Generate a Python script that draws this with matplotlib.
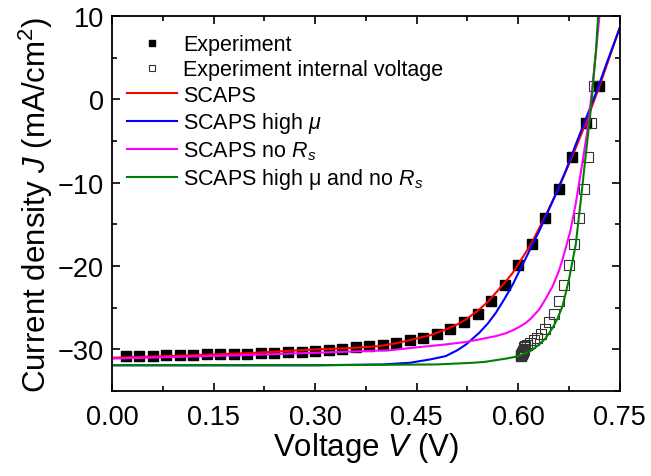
import matplotlib.pyplot as plt
from matplotlib.ticker import MultipleLocator

plt.rcParams['font.family'] = ['Liberation Sans', 'DejaVu Sans']
plt.rcParams['mathtext.fontset'] = 'custom'
plt.rcParams['mathtext.rm'] = 'Liberation Sans'
plt.rcParams['mathtext.it'] = 'Liberation Sans:italic'

# measured J-V (applied voltage)
v_exp = [0.02, 0.04, 0.06, 0.08, 0.10, 0.12, 0.14, 0.16, 0.18, 0.20, 0.22, 0.24,
         0.26, 0.28, 0.30, 0.32, 0.34, 0.36, 0.38, 0.40, 0.42, 0.44, 0.46, 0.48,
         0.50, 0.52, 0.54, 0.56, 0.58, 0.60, 0.62, 0.64, 0.66, 0.68, 0.70, 0.72]
j_exp = [-30.8, -30.8, -30.75, -30.72, -30.7, -30.65, -30.6, -30.58, -30.53, -30.5,
         -30.45, -30.4, -30.36, -30.28, -30.16, -30.04, -29.92, -29.76, -29.6, -29.45,
         -29.2, -28.9, -28.6, -28.2, -27.6, -26.7, -25.7, -24.2, -22.3, -19.9,
         -17.3, -14.2, -10.7, -6.9, -2.8, 1.6]

# same currents against the internal voltage
v_int = [0.604, 0.604, 0.6042, 0.6043, 0.6045, 0.6048, 0.605, 0.6052, 0.6055, 0.6057,
         0.606, 0.6062, 0.6066, 0.607, 0.6075, 0.608, 0.6085, 0.609, 0.6105, 0.6135,
         0.618, 0.6228, 0.628, 0.6337, 0.640, 0.646, 0.6526, 0.660, 0.667, 0.675,
         0.683, 0.690, 0.6977, 0.7025, 0.7075, 0.712]

# SCAPS simulations
v_scaps = [0.0, 0.10, 0.20, 0.30, 0.35, 0.395, 0.42, 0.444, 0.47, 0.493, 0.51, 0.523,
           0.5425, 0.555, 0.567, 0.58, 0.592, 0.6016, 0.62, 0.64, 0.66, 0.68, 0.70,
           0.72, 0.75]
j_scaps = [-31.0, -30.75, -30.45, -30.0, -29.85, -29.6, -29.25, -28.8, -28.3, -27.6,
           -27.0, -26.4, -25.2, -24.3, -23.2, -22.0, -20.8, -19.6, -17.2, -14.0,
           -10.6, -6.8, -2.8, 1.6, 8.6]

v_hmu = [0.0, 0.20, 0.30, 0.40, 0.44, 0.47, 0.493, 0.51, 0.523, 0.5425, 0.555, 0.567,
         0.58, 0.592, 0.6016, 0.6115, 0.62, 0.631, 0.651, 0.67, 0.685, 0.70, 0.715,
         0.73, 0.75]
j_hmu = [-31.9, -31.9, -31.9, -31.8, -31.6, -31.2, -30.8, -30.1, -29.4, -28.0, -26.9,
         -25.6, -23.9, -22.2, -20.6, -19.0, -17.6, -15.8, -12.2, -8.6, -5.4, -2.3, 0.8,
         4.2, 8.6]

v_nors = [0.0, 0.188, 0.30, 0.41, 0.444, 0.493, 0.523, 0.5425, 0.567, 0.582, 0.592,
          0.6016, 0.6115, 0.62, 0.631, 0.64, 0.651, 0.66, 0.6655, 0.677, 0.685, 0.695,
          0.7025, 0.7075, 0.714, 0.72]
j_nors = [-31.1, -30.7, -30.4, -30.1, -29.8, -29.4, -29.1, -28.8, -28.4, -28.05, -27.7,
          -27.3, -26.8, -26.2, -25.2, -24.0, -22.4, -20.6, -19.2, -15.8, -12.5, -7.5,
          -3.6, 0.0, 5.0, 10.0]

v_both = [0.0, 0.30, 0.48, 0.533, 0.55, 0.582, 0.595, 0.606, 0.62, 0.631, 0.64, 0.651,
          0.658, 0.6655, 0.675, 0.685, 0.6926, 0.70, 0.7075, 0.715, 0.718]
j_both = [-31.9, -31.9, -31.8, -31.6, -31.5, -31.1, -30.9, -30.6, -30.1, -29.4, -28.7,
          -27.4, -26.3, -24.8, -21.6, -17.4, -12.0, -6.5, -1.0, 6.0, 10.0]

fig = plt.figure(figsize=(6.51, 4.77), dpi=100)
ax = fig.add_axes([0.172, 0.178, 0.780, 0.786])

ax.plot(v_exp, j_exp, 's', color='black', markersize=6.8, label='Experiment')
ax.plot(v_int, j_exp, 's', markerfacecolor='none', markeredgecolor='#333333',
        markeredgewidth=0.8, markersize=6.8, label='Experiment internal voltage')
ax.plot(v_scaps, j_scaps, color='#ff0000', lw=1.5, label='SCAPS')
ax.plot(v_hmu, j_hmu, color='#0000ff', lw=1.5, label=r'SCAPS high $\mu$')
ax.plot(v_nors, j_nors, color='#ff00ff', lw=1.5, label=r'SCAPS no $R_s$')
ax.plot(v_both, j_both, color='#008000', lw=1.5, label=r'SCAPS high μ and no $R_s$')

ax.set_xlim(0, 0.75)
ax.set_ylim(-35, 10)
ax.xaxis.set_major_locator(MultipleLocator(0.15))
ax.xaxis.set_minor_locator(MultipleLocator(0.075))
ax.yaxis.set_major_locator(MultipleLocator(10))
ax.yaxis.set_minor_locator(MultipleLocator(5))
ax.xaxis.set_major_formatter(plt.FormatStrFormatter('%.2f'))
ax.tick_params(which='both', direction='in', top=True, right=True, labelsize=19.5,
               width=1.2)
ax.tick_params(which='major', length=6, pad=6)
ax.tick_params(axis='x', which='major', pad=9)
ax.tick_params(which='minor', length=3.5)
for s in ax.spines.values():
    s.set_linewidth(1.3)

ax.set_xlabel(r'Voltage $V$ (V)', fontsize=22.5, labelpad=0)
ax.set_ylabel(r'Current density $J$ (mA/cm$^2$)', fontsize=22.5, labelpad=2)

ax.legend(loc='upper left', frameon=False, fontsize=15.5, handlelength=2.3,
          handletextpad=0.3, labelspacing=0.2, borderaxespad=0, borderpad=0.4,
          markerscale=0.65, bbox_to_anchor=(0.013, 0.975))

fig.savefig('out.png', dpi=100)
